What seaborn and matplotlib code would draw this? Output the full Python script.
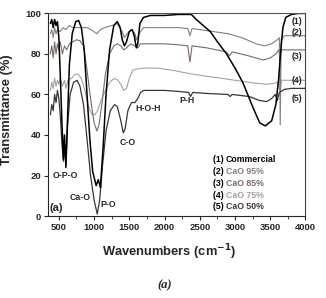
import numpy as np
import pandas as pd
import seaborn as sns
from matplotlib import pyplot as plt
from matplotlib.ticker import MultipleLocator

# wavenumber (cm-1) / transmittance (%)
wn1 = [380, 400, 420, 440, 460, 480, 500, 520, 545, 565, 580, 600, 620, 650, 690, 740, 780,
       820, 860, 900, 940, 980, 1030, 1060, 1090, 1130, 1170, 1220, 1280, 1330, 1370, 1400,
       1430, 1460, 1500, 1540, 1570, 1600, 1620, 1650, 1700, 1800, 2000, 2200, 2380, 2450,
       2550, 2650, 2750, 2880, 3000, 3110, 3250, 3350, 3430, 3520, 3580, 3620, 3650, 3680,
       3720, 3800, 3900, 4000]
t1 = [95, 97, 93, 97, 94, 96, 88, 70, 45, 28, 40, 24, 45, 75, 90, 96, 96.5,
      93, 82, 60, 38, 22, 15, 18, 14, 35, 60, 82, 94, 96, 93, 87,
      84, 86, 91, 92, 89, 83, 85, 95, 98, 99, 99, 99.5, 99.5, 97,
      94, 91, 86, 80, 73, 66, 54, 46, 44.5, 47, 55, 68, 82, 93,
      98, 99.5, 100, 100]

wn2 = [380, 400, 420, 440, 460, 480, 520, 560, 600, 650, 700, 800, 900, 980, 1040, 1090,
       1150, 1250, 1330, 1400, 1430, 1470, 1530, 1580, 1600, 1640, 1700, 1900, 2200, 2330,
       2360, 2390, 2600, 2900, 3100, 3300, 3420, 3520, 3600, 3630, 3642, 3655, 3700, 3800,
       4000]
t2 = [90, 92, 88, 93, 90, 92, 91, 93, 92, 94, 93, 93, 93, 91.5, 90, 92,
      93, 94, 95, 91, 88, 90, 92, 90, 87, 90, 93, 93, 93, 92.5,
      89, 92.5, 91.5, 90, 88, 85, 84, 85, 87, 88, 45, 87, 89, 89,
      89]

wn3 = [380, 400, 420, 440, 460, 480, 500, 520, 550, 580, 610, 650, 700, 750, 800, 850, 900,
       950, 1000, 1040, 1070, 1110, 1160, 1220, 1280, 1330, 1380, 1420, 1460, 1520, 1580,
       1620, 1660, 1800, 2000, 2200, 2330, 2360, 2390, 2600, 2880, 2920, 2960, 3200, 3400,
       3500, 3580, 3620, 3640, 3660, 3700, 3800, 4000]
t3 = [80, 84, 78, 86, 80, 85, 82, 86, 80, 84, 82, 85, 86, 87, 86.5, 84, 72,
      58, 46, 42, 45, 55, 70, 80, 84, 85, 84, 82, 83, 85, 84,
      83, 85, 85, 85, 84.5, 84, 76, 84, 83, 81, 79, 81, 79, 77,
      78, 80, 82, 78, 82, 82, 82, 82]

wn4 = [380, 400, 420, 440, 460, 480, 500, 520, 550, 580, 600, 630, 680, 730, 770, 820, 870,
       920, 970, 1010, 1050, 1100, 1160, 1220, 1290, 1340, 1380, 1420, 1460, 1500, 1550,
       1600, 1700, 1900, 2100, 2400, 2700, 3000, 3300, 3450, 3550, 3620, 3640, 3660, 3800,
       4000]
t4 = [62, 66, 63, 68, 64, 67, 65, 68, 64, 67, 63, 67, 68, 70, 70, 68, 62,
      54, 50, 50, 52, 57, 62, 66, 68, 67, 65, 62, 63, 68, 72,
      72.5, 73, 73, 72, 70, 68.5, 67, 65.5, 65, 65.5, 66, 62, 67, 67,
      67]

wn5 = [380, 400, 420, 440, 460, 480, 500, 520, 545, 565, 585, 600, 625, 660, 710, 760, 800,
       850, 900, 950, 1000, 1045, 1080, 1120, 1170, 1230, 1290, 1330, 1380, 1415, 1440, 1480,
       1530, 1580, 1620, 1660, 1700, 1800, 2000, 2200, 2340, 2370, 2400, 2600, 2900, 2930,
       2960, 3200, 3350, 3450, 3520, 3570, 3600, 3630, 3700, 3800, 4000]
t5 = [50, 55, 52, 60, 56, 62, 58, 50, 35, 27, 35, 26, 45, 60, 66, 67, 64,
      55, 38, 20, 8, 1, 8, 25, 42, 52, 55, 54, 47, 41, 43, 52,
      56, 56, 58, 61, 62, 62, 62, 61.5, 61, 59, 61, 60.5, 60, 59,
      60, 59, 57, 56.5, 58, 60, 57, 61, 62.5, 63, 63]

names = ["Commercial", "CaO 95%", "CaO 85%", "CaO 75%", "CaO 50%"]
colors = ["#000000", "#8a7c78", "#7a6a66", "#a8a09c", "#3a3434"]
widths = [1.1, 0.8, 0.8, 0.8, 0.9]
series = [(wn1, t1), (wn2, t2), (wn3, t3), (wn4, t4), (wn5, t5)]

sns.set_style("ticks")
plt.rcParams['font.family'] = ['Liberation Sans', 'DejaVu Sans']

fig = plt.figure(figsize=(3.26, 2.98), dpi=100)
ax = fig.add_axes([0.147, 0.275, 0.79, 0.68])

# draw the lighter curves first, black on top
for i in [3, 2, 1, 4, 0]:
    x, y = series[i]
    df = pd.DataFrame({"wn": x, "T": y})
    sns.lineplot(data=df, x="wn", y="T", ax=ax, color=colors[i], lw=widths[i],
                 estimator=None, sort=False)

ax.set_xlim(345, 4000)
ax.set_ylim(0, 100)
ax.set_xticks([500, 1000, 1500, 2000, 2500, 3000, 3500, 4000])
ax.set_yticks([0, 20, 40, 60, 80, 100])
ax.xaxis.set_minor_locator(MultipleLocator(250))
ax.tick_params(axis="both", labelsize=6.8, length=3, width=0.8, pad=2)
ax.tick_params(axis="x", which="minor", length=2)
for lab in ax.get_xticklabels() + ax.get_yticklabels():
    lab.set_fontweight("bold")
ax.set_xlabel("")
ax.set_ylabel("")
for s in ax.spines.values():
    s.set_linewidth(0.8)
ax.spines["top"].set_color("#555555")
ax.spines["right"].set_color("#444444")

# band labels
kw = dict(fontsize=6.3, fontweight="bold", ha="center", va="center")
ax.text(585, 20, "O-P-O", **kw)
ax.text(800, 9, "Ca-O", **kw)
ax.text(1196, 5.5, "P-O", **kw)
ax.text(1480, 36.5, "C-O", **kw)
ax.text(1760, 53, "H-O-H", **kw)
ax.text(2318, 57, "P-H", **kw)
ax.text(470, 4, "(a)", fontsize=8, fontweight="bold", ha="center", va="center")
for lab, yy in zip(["(1)", "(2)", "(3)", "(4)", "(5)"], [96, 90.5, 78.5, 67, 58]):
    ax.text(3880, yy, lab, **kw)

# legend as coloured text lines
for k, (nm, c) in enumerate(zip(names, colors)):
    ypos = 1 - (160 + 11.7 * k) / 298
    fig.text(213 / 326, ypos, f"({k + 1}) ", fontsize=6.3, fontweight="bold",
             color="black", va="center")
    fig.text(226 / 326, ypos, nm, fontsize=6.3, fontweight="bold", color=c, va="center")

fig.text(0.52, 1 - 252 / 298, "Wavenumbers (cm$^{\\mathbf{-1}}$)", fontsize=9.3,
         fontweight="bold", ha="center", va="center")
fig.text(0.022, 1 - 110 / 298, "Transmittance (%)", fontsize=9.3, fontweight="bold",
         rotation=90, ha="center", va="center")
fig.text(0.506, 0.044, "(a)", fontsize=9, fontweight="bold", fontstyle="italic",
         family="Liberation Serif", ha="center", va="center")

fig.savefig("out.png", dpi=100)
